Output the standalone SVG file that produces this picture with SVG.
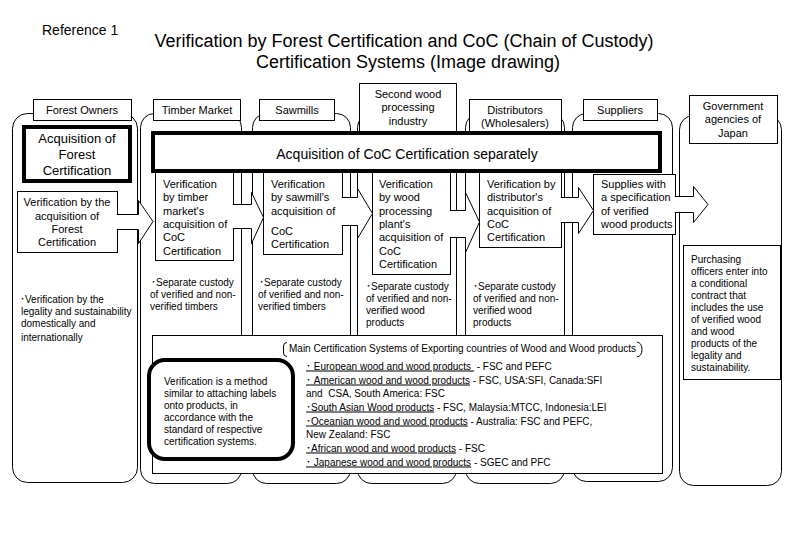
<svg xmlns="http://www.w3.org/2000/svg" width="792" height="539" viewBox="0 0 792 539">
<style>
text{font-family:"Liberation Sans",Arial,"Noto Sans CJK JP",sans-serif;fill:#000}
.t10{font-size:10px}
.t11{font-size:11px}
.c{text-anchor:middle}
.pre{white-space:pre}
.u{text-decoration:underline}
.ln{fill:#fff;stroke:#000;stroke-width:1}
.col{fill:none;stroke:#000;stroke-width:1}
.thick{fill:#fff;stroke:#000;stroke-width:4}
</style>
<rect width="792" height="539" fill="#fff"/>
<g id="title">
<text x="42" y="35" style="font-size:14px">Reference 1</text>
<text x="404" y="47" class="c" style="font-size:18px">Verification by Forest Certification and CoC (Chain of Custody)</text>
<text x="408" y="68" class="c" style="font-size:18px">Certification Systems (Image drawing)</text>
</g>
<g id="columns">
<rect class="col" x="12.5" y="113.5" width="125" height="369" rx="15"/>
<rect class="col" x="140.5" y="113.5" width="101" height="370" rx="14"/>
<rect class="col" x="252.5" y="113.5" width="98" height="370" rx="14"/>
<rect class="col" x="357.5" y="113.5" width="99" height="370" rx="14"/>
<rect class="col" x="465.5" y="113.5" width="99" height="370" rx="14"/>
<rect class="col" x="572.5" y="113.5" width="100" height="368" rx="14"/>
<rect class="col" x="679.5" y="115.5" width="102" height="370" rx="14"/>
</g>
<g id="headers">
<g id="h-forest"><rect class="ln" x="33.5" y="99.5" width="98" height="21"/><text class="t11 c" x="82" y="114">Forest Owners</text></g>
<g id="h-timber"><rect class="ln" x="153.5" y="99.5" width="87" height="21"/><text class="t11 c" x="197" y="114">Timber Market</text></g>
<g id="h-sawmills"><rect class="ln" x="259.5" y="99.5" width="75" height="21"/><text class="t11 c" x="297" y="114">Sawmills</text></g>
<g id="h-second"><rect class="ln" x="359.5" y="83.5" width="97" height="50"/><text class="t11 c" x="408" y="98">Second wood</text><text class="t11 c" x="408" y="111">processing</text><text class="t11 c" x="408" y="125">industry</text></g>
<g id="h-distrib"><rect class="ln" x="469.5" y="99.5" width="92" height="34"/><text class="t11 c" x="515" y="114">Distributors</text><text class="t11 c" x="515" y="127">(Wholesalers)</text></g>
<g id="h-suppliers"><rect class="ln" x="583.5" y="99.5" width="74" height="21"/><text class="t11 c" x="620" y="114">Suppliers</text></g>
<g id="h-gov"><rect class="ln" x="689.5" y="95.5" width="88" height="48"/><text class="t11 c" x="733" y="110">Government</text><text class="t11 c" x="733" y="123">agencies of</text><text class="t11 c" x="733" y="137">Japan</text></g>
</g>
<g id="forest-cert">
<rect class="thick" x="24" y="127" width="106" height="54"/>
<text class="c" style="font-size:13px" x="77" y="143">Acquisition of</text>
<text class="c" style="font-size:13px" x="77" y="159">Forest</text>
<text class="c" style="font-size:13px" x="77" y="175">Certification</text>
</g>
<g id="boxes">
<g id="b-forest"><rect class="ln" x="17.5" y="191.5" width="100" height="61"/>
<text class="t11 c" x="67" y="206">Verification by the</text><text class="t11 c" x="67" y="220">acquisition of</text><text class="t11 c" x="67" y="233">Forest</text><text class="t11 c" x="67" y="246">Certification</text></g>
<g id="b-timber"><rect class="ln" x="155.5" y="171.5" width="78" height="89"/>
<text class="t11" x="163" y="188">Verification</text><text class="t11" x="163" y="201">by timber</text><text class="t11" x="163" y="215">market's</text><text class="t11" x="163" y="228">acquisition of</text><text class="t11" x="163" y="241">CoC</text><text class="t11" x="163" y="255">Certification</text></g>
<g id="b-sawmill"><rect class="ln" x="263.5" y="171.5" width="79" height="83"/>
<text class="t11" x="271" y="188">Verification</text><text class="t11" x="271" y="201">by sawmill's</text><text class="t11" x="271" y="215">acquisition of</text><text class="t11" x="271" y="235">CoC</text><text class="t11" x="271" y="248">Certification</text></g>
<g id="b-wood"><rect class="ln" x="372.5" y="171.5" width="78" height="103"/>
<text class="t11" x="379" y="188">Verification</text><text class="t11" x="379" y="201">by wood</text><text class="t11" x="379" y="215">processing</text><text class="t11" x="379" y="228">plant's</text><text class="t11" x="379" y="241">acquisition of</text><text class="t11" x="379" y="255">CoC</text><text class="t11" x="379" y="268">Certification</text></g>
<g id="b-distrib"><rect class="ln" x="479.5" y="171.5" width="82" height="76"/>
<text class="t11" x="487" y="188">Verification by</text><text class="t11" x="487" y="201">distributor's</text><text class="t11" x="487" y="215">acquisition of</text><text class="t11" x="487" y="228">CoC</text><text class="t11" x="487" y="241">Certification</text></g>
<g id="b-supplier"><rect class="ln" x="593.5" y="174.5" width="82" height="60"/>
<text class="t11" x="601" y="188">Supplies with</text><text class="t11" x="601" y="201">a specification</text><text class="t11" x="601" y="215">of verified</text><text class="t11" x="601" y="228">wood products</text></g>
</g>
<g id="coc">
<rect class="thick" x="153" y="133" width="507" height="38"/>
<text x="407" y="159" class="c" style="font-size:14px">Acquisition of CoC Certification separately</text>
</g>
<g id="connectors" class="ln">
<path d="M116.8,214.5 H138.5 V200.5 L153,221.5 L138.5,243.5 V229.5 H116.8"/>
<path d="M232.8,204.5 H251.5 V192.5 L263.5,217.5 L251.5,243.5 V228.5 H232.8"/>
<path d="M341.8,197.5 H357.5 V188.5 L372.5,213.5 L357.5,238.5 V225.5 H341.8"/>
<path d="M449.8,210.5 H465.5 V192.5 L479.5,222 L465.5,252.5 V237.5 H449.8"/>
<path d="M560.8,197.5 H578.5 V187.5 L593.5,210.5 L578.5,233.5 V222.5 H560.8"/>
<path d="M674.8,196.5 H693.5 V186.5 L708,204.5 L693.5,222.5 V212.5 H674.8"/>
</g>
<g id="notes">
<text class="t10" x="20" y="303">･Verification by the</text>
<text class="t10" x="21" y="315">legality and sustainability</text>
<text class="t10" x="21" y="327">domestically and</text>
<text class="t10" x="21" y="341">internationally</text>
<text class="t10" x="151" y="286">･Separate custody</text>
<text class="t10" x="150" y="298">of verified and non-</text>
<text class="t10" x="150" y="310">verified timbers</text>
<text class="t10" x="259" y="286">･Separate custody</text>
<text class="t10" x="258" y="298">of verified and non-</text>
<text class="t10" x="258" y="310">verified timbers</text>
<text class="t10" x="366" y="290">･Separate custody</text>
<text class="t10" x="366" y="302">of verified and non-</text>
<text class="t10" x="366" y="314">verified wood</text>
<text class="t10" x="366" y="326">products</text>
<text class="t10" x="473" y="290">･Separate custody</text>
<text class="t10" x="473" y="302">of verified and non-</text>
<text class="t10" x="473" y="314">verified wood</text>
<text class="t10" x="473" y="326">products</text>
</g>
<g id="main-cert">
<rect class="ln" x="152.5" y="335.5" width="510" height="138"/>
<path d="M287,342.5 Q283.5,342.5 283.5,346 V353 Q283.5,356.5 287,356.5" fill="none" stroke="#000"/>
<path d="M637,342 Q642,343 642,349.5 Q642,356 637,357" fill="none" stroke="#000"/>
<text class="t10" x="289" y="352">Main Certification Systems of Exporting countries of Wood and Wood products</text>
<text class="t10 pre" x="306" y="369.5"><tspan class="u">･ European wood and wood products </tspan> - FSC and PEFC</text>
<text class="t10 pre" x="306" y="383.5"><tspan class="u">･ American wood and wood products</tspan> - FSC, USA:SFI, Canada:SFI</text>
<text class="t10 pre" x="306" y="396.5">and  CSA, South America: FSC</text>
<text class="t10 pre" x="306" y="410.5"><tspan class="u">･South Asian Wood products</tspan> - FSC, Malaysia:MTCC, Indonesia:LEI</text>
<text class="t10 pre" x="306" y="424.5"><tspan class="u">･Oceanian wood and wood products</tspan> - Australia: FSC and PEFC,</text>
<text class="t10 pre" x="306" y="437.5">New Zealand: FSC</text>
<text class="t10 pre" x="306" y="451.5"><tspan class="u">･African wood and wood products</tspan> - FSC</text>
<text class="t10 pre" x="306" y="465.5"><tspan class="u">･ Japanese wood and wood products</tspan> - SGEC and PFC</text>
</g>
<g id="method">
<rect class="thick" x="149" y="360" width="144" height="99" rx="16"/>
<text class="t10" x="164" y="385">Verification is a method</text>
<text class="t10" x="164" y="397">similar to attaching labels</text>
<text class="t10" x="164" y="409">onto products, in</text>
<text class="t10" x="164" y="421">accordance with the</text>
<text class="t10" x="164" y="433">standard of respective</text>
<text class="t10" x="164" y="445">certification systems.</text>
</g>
<g id="gov-note">
<rect class="ln" x="683.5" y="245.5" width="97" height="134"/>
<text class="t10" x="691" y="263">Purchasing</text>
<text class="t10" x="691" y="275">officers enter into</text>
<text class="t10" x="691" y="287">a conditional</text>
<text class="t10" x="691" y="299">contract that</text>
<text class="t10" x="691" y="311">includes the use</text>
<text class="t10" x="691" y="323">of verified wood</text>
<text class="t10" x="691" y="335">and wood</text>
<text class="t10" x="691" y="347">products of the</text>
<text class="t10" x="691" y="359">legality and</text>
<text class="t10" x="691" y="371">sustainability.</text>
</g>
</svg>
